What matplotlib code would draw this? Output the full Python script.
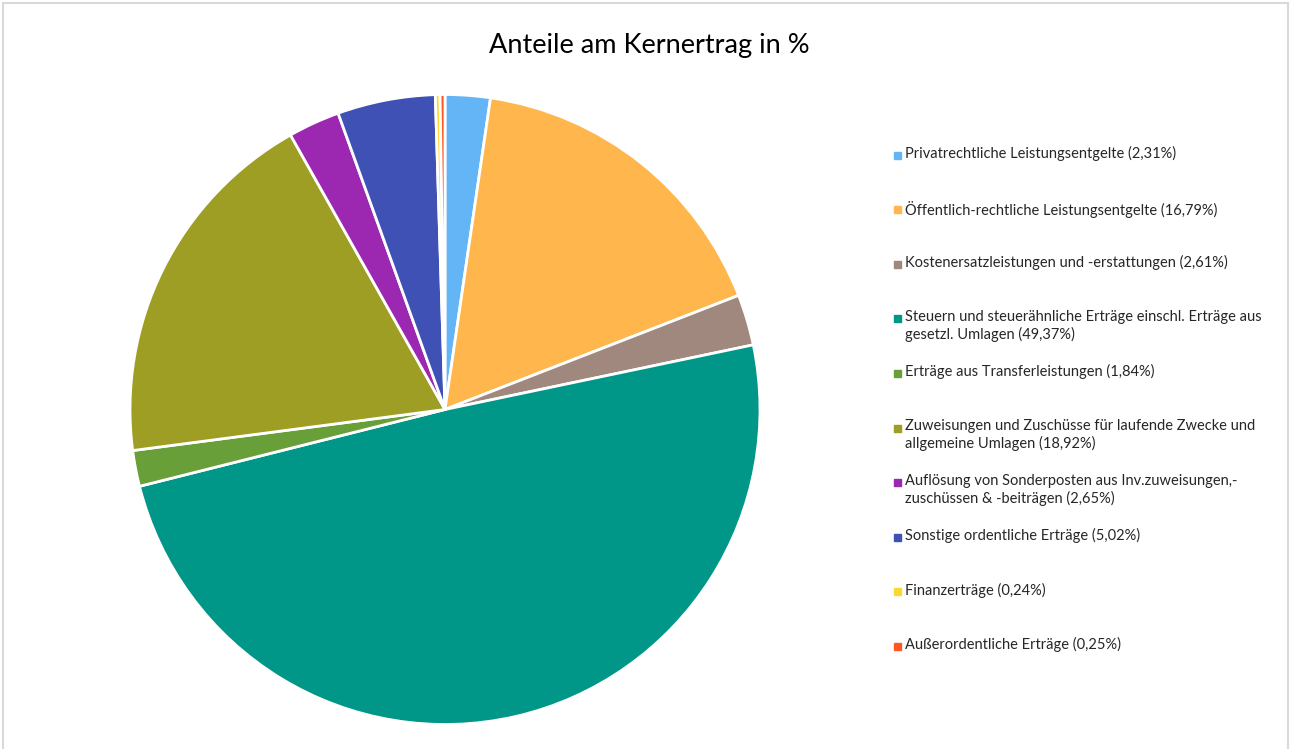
import matplotlib.pyplot as plt
from matplotlib.patches import Rectangle
from matplotlib.lines import Line2D

# Data
categories = [
    "Privatrechtliche Leistungsentgelte",
    "Öffentlich-rechtliche Leistungsentgelte",
    "Kostenersatzleistungen und -erstattungen",
    "Steuern und steuerähnliche Erträge einschl. Erträge aus\ngesetzl. Umlagen",
    "Erträge aus Transferleistungen",
    "Zuweisungen und Zuschüsse für laufende Zwecke und\nallgemeine Umlagen",
    "Auflösung von Sonderposten aus Inv.zuweisungen,-\nzuschüssen & -beiträgen",
    "Sonstige ordentliche Erträge",
    "Finanzerträge",
    "Außerordentliche Erträge",
]
shares = [2.31, 16.79, 2.61, 49.37, 1.84, 18.92, 2.65, 5.02, 0.24, 0.25]
colors = ["#64B5F6", "#FFB74D", "#A1887F", "#009688", "#689F38",
          "#9E9D24", "#9C27B0", "#3F51B5", "#FDD835", "#FF5722"]

plt.rcParams['font.family'] = ['Lato', 'DejaVu Sans']

W, H = 1291, 749
fig = plt.figure(figsize=(W / 100, H / 100), dpi=100)

# chart frame (light grey)
for xs, ys in [([3 / W, 3 / W], [0, 1 - 3 / H]),
               ([3 / W, 1 - 3 / W], [1 - 3 / H, 1 - 3 / H]),
               ([1 - 3 / W, 1 - 3 / W], [0, 1 - 3 / H])]:
    fig.add_artist(Line2D(xs, ys, color="#d9d9d9", lw=1.5, transform=fig.transFigure))

# pie
cx, cy, r = 445, 409.5, 315
ax = fig.add_axes([(cx - r) / W, (H - cy - r) / H, 2 * r / W, 2 * r / H])
ax.pie(shares, colors=colors, startangle=90, counterclock=False, radius=1,
       wedgeprops=dict(edgecolor="white", linewidth=2))
ax.set_xlim(-1, 1)
ax.set_ylim(-1, 1)
ax.set_aspect("equal")
ax.axis("off")

fig.text(649 / W, 1 - 45 / H, "Anteile am Kernertrag in %", ha="center", va="center",
         fontsize=19.5, color="#000000")

# legend
x_mark, x_text = 897, 905
y0, dy = 155, 54.6
for i, (name, val, col) in enumerate(zip(categories, shares, colors)):
    y = y0 + dy * i
    fig.add_artist(Rectangle(((x_mark - 3.5) / W, 1 - (y + 3.5) / H), 7 / W, 7 / H,
                             color=col, transform=fig.transFigure))
    label = name + " (" + f"{val:.2f}".replace(".", ",") + "%)"
    fig.text(x_text / W, 1 - (y - 9) / H, label, ha="left", va="top",
             fontsize=10.5, color="#262626", linespacing=1.25)

fig.savefig("out.png", dpi=100)
